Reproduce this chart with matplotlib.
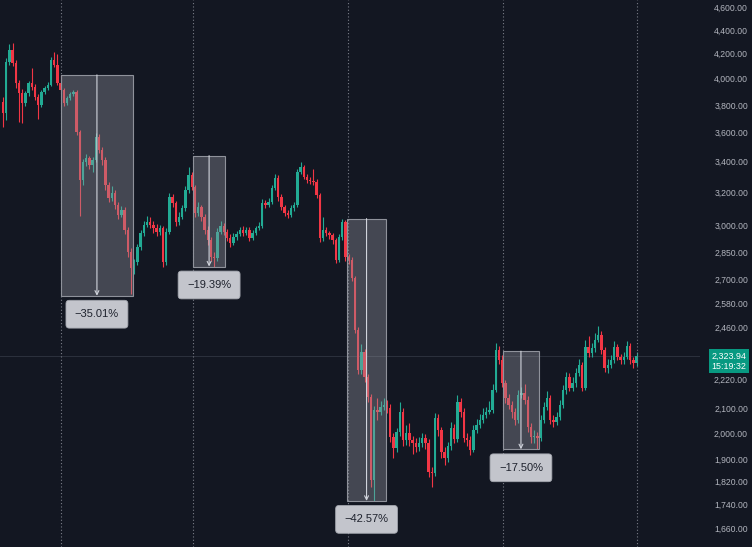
import numpy as np
import matplotlib
matplotlib.use("Agg")
import matplotlib.pyplot as plt
import matplotlib.transforms as mtransforms
from matplotlib.patches import Rectangle
from matplotlib.ticker import NullLocator

# --- data ---
first_open = 3822
closes = [
    3741, 4133, 4231, 4125, 3967, 3890, 3815, 3890, 3967, 3936,
    3860, 3800, 3898, 3928, 3952, 4149, 4109, 3967, 3913, 3815,
    3852, 3882, 3898, 3604, 3281, 3399, 3425, 3379, 3412, 3569,
    3479, 3412, 3249, 3167, 3198, 3124, 3064, 3094, 2975, 2850,
    2763, 2795, 2878, 2958, 3004, 3022, 3004, 2987, 2964, 2987,
    2795, 2964, 3174, 3137, 3022, 3052, 3106, 3217, 3313, 3236,
    3076, 3112, 3052, 2975, 2918, 2822, 2817, 2964, 2998, 2964,
    2929, 2901, 2935, 2952, 2975, 2958, 2975, 2929, 2958, 2987,
    2998, 3137, 3124, 3143, 3230, 3294, 3174, 3112, 3076, 3064,
    3106, 3124, 3333, 3366, 3300, 3281, 3275, 3268, 3186, 2929,
    2975, 2958, 2947, 2918, 2806, 2935, 3022, 2822, 2806, 2709,
    2447, 2263, 2344, 2232, 2147, 1825, 2093, 2085, 2105, 2114,
    2101, 1986, 1943, 2005, 2085, 1974, 2001, 1974, 1962, 1947,
    1962, 1982, 1962, 1854, 1850, 2060, 2013, 1928, 1905, 1950,
    2020, 1975, 2126, 2085, 1982, 1974, 1935, 2013, 2032, 2052,
    2072, 2085, 2093, 2176, 2353, 2308, 2206, 2142, 2114, 2085,
    2052, 2155, 2163, 2134, 2025, 1986, 1990, 1982, 2052, 2105,
    2142, 2052, 2044, 2064, 2114, 2176, 2232, 2185, 2206, 2250,
    2285, 2185, 2367, 2340, 2362, 2400, 2424, 2353, 2272, 2285,
    2308, 2367, 2322, 2308, 2322, 2372, 2308, 2295, 2323.94,
]
highs = [
    3860, 4165, 4280, 4290, 4150, 3990, 3920, 3905, 3985, 4085,
    3960, 3880, 3915, 3945, 3975, 4170, 4215, 4200, 4030, 3930,
    3870, 3895, 3915, 3910, 3620, 3420, 3450, 3440, 3430, 3600,
    3590, 3500, 3430, 3270, 3240, 3215, 3140, 3120, 3110, 2990,
    2870, 2810, 2895, 2975, 3030, 3060, 3050, 3030, 3010, 3005,
    3000, 2985, 3200, 3190, 3150, 3080, 3125, 3240, 3366, 3330,
    3250, 3140, 3125, 3070, 3000, 2935, 2850, 2985, 3030, 3015,
    2980, 2950, 2955, 2970, 2995, 3000, 2990, 2990, 2975, 3000,
    3020, 3160, 3155, 3165, 3250, 3320, 3310, 3190, 3125, 3095,
    3125, 3145, 3350, 3400, 3380, 3320, 3300, 3350, 3285, 3200,
    3050, 2990, 2970, 2960, 2930, 2950, 3042, 3035, 2840, 2820,
    2720, 2460, 2380, 2355, 2245, 2160, 2110, 2140, 2130, 2140,
    2135, 2115, 2000, 2020, 2125, 2100, 2030, 2040, 1990, 1980,
    1985, 2000, 1995, 1975, 1870, 2080, 2075, 2025, 1945, 1965,
    2045, 2035, 2155, 2140, 2100, 2000, 1990, 2030, 2055, 2075,
    2100, 2105, 2130, 2200, 2385, 2370, 2330, 2220, 2160, 2130,
    2100, 2175, 2190, 2200, 2150, 2040, 2010, 2005, 2070, 2125,
    2170, 2155, 2070, 2085, 2135, 2195, 2255, 2250, 2230, 2270,
    2310, 2300, 2400, 2420, 2385, 2430, 2465, 2440, 2365, 2310,
    2330, 2395, 2380, 2335, 2345, 2395, 2385, 2320, 2345,
]
lows = [
    3640, 3690, 4110, 4100, 3930, 3675, 3670, 3790, 3870, 3915,
    3840, 3700, 3785, 3880, 3910, 3940, 4090, 3950, 3895, 3795,
    3800, 3840, 3870, 3580, 3060, 3250, 3370, 3350, 3330, 3400,
    3460, 3380, 3220, 3140, 3150, 3100, 3040, 3050, 2950, 2820,
    2625, 2730, 2780, 2860, 2940, 2990, 2985, 2960, 2940, 2945,
    2770, 2780, 2950, 3110, 3000, 3005, 3040, 3090, 3200, 3215,
    3050, 3060, 3030, 2950, 2890, 2800, 2768, 2800, 2950, 2945,
    2910, 2880, 2890, 2920, 2940, 2940, 2945, 2910, 2915, 2945,
    2975, 2985, 3105, 3110, 3130, 3215, 3150, 3095, 3055, 3045,
    3050, 3090, 3110, 3320, 3285, 3260, 3255, 3250, 3165, 2905,
    2910, 2940, 2925, 2895, 2790, 2795, 2920, 2800, 2785, 2690,
    2430, 2245, 2245, 2210, 2125, 1800, 1751, 2050, 2070, 2090,
    2080, 1965, 1905, 1925, 1990, 1950, 1955, 1950, 1920, 1925,
    1930, 1945, 1940, 1835, 1800, 1840, 1990, 1905, 1880, 1890,
    1935, 1960, 1965, 2065, 1965, 1950, 1915, 1925, 2000, 2020,
    2040, 2060, 2075, 2080, 2165, 2290, 2190, 2120, 2095, 2060,
    2030, 2040, 2140, 2115, 2005, 1960, 1960, 1937, 1970, 2040,
    2090, 2035, 2025, 2030, 2050, 2100, 2160, 2170, 2170, 2190,
    2235, 2170, 2175, 2320, 2320, 2345, 2390, 2335, 2255, 2250,
    2270, 2295, 2305, 2290, 2290, 2310, 2290, 2270, 2280,
]

price_ticks = [4600, 4400, 4200, 4000, 3800, 3600, 3400, 3200, 3000, 2850,
               2700, 2580, 2460, 2220, 2100, 2000, 1900, 1820, 1740, 1660]

# measured drops: candle index range, top / bottom price, label
box_start = [18.1, 59.4, 107.5, 156.2]
box_end = [40.6, 69.4, 119.7, 167.5]
box_top = [4030, 3441, 3042, 2347]
box_bottom = [2616, 2770, 1751, 1937]
box_label = ["\u221235.01%", "\u221219.39%", "\u221242.57%", "\u221217.50%"]

marker_lines = [18, 59.4, 107.9, 156.2, 198]
last_time = "15:19:32"

# --- style ---
BG = "#131722"
UP = "#22ab94"
DOWN = "#f23645"

opens = [first_open] + closes[:-1]
idx = np.arange(len(closes))
o = np.array(opens, dtype=float)
c = np.array(closes, dtype=float)
h = np.array(highs, dtype=float)
l = np.array(lows, dtype=float)
up = c >= o
colors = np.where(up, UP, DOWN)

fig = plt.figure(figsize=(7.52, 5.47), dpi=100)
fig.patch.set_facecolor(BG)
ax = fig.add_axes([0, 0, 700 / 752, 1])
ax.set_facecolor(BG)

ax.set_yscale("log")
ax.set_ylim(1600, 4666)
ax.set_xlim(-0.94, 217.8)

# last price line
ax.axhline(closes[-1], color="#2c313d", lw=0.7, zorder=1)

# candles
ax.vlines(idx, l, h, colors=colors, lw=0.8, zorder=2)
body_low = np.minimum(o, c)
body_h = np.maximum(np.abs(c - o), body_low * 0.002)
ax.bar(idx, body_h, bottom=body_low, width=0.78, color=colors, linewidth=0, zorder=3)

# dotted vertical markers
for xm in marker_lines:
    ax.axvline(xm, color="#7a7d88", lw=0.8, ls=(0, (1, 2)), zorder=4)

# measurement boxes
for x0, x1, top, bot, lab in zip(box_start, box_end, box_top, box_bottom, box_label):
    ax.add_patch(Rectangle((x0, bot), x1 - x0, top - bot, facecolor="#9598a1",
                           alpha=0.38, edgecolor="none", zorder=5))
    ax.add_patch(Rectangle((x0, bot), x1 - x0, top - bot, facecolor="none",
                           edgecolor="#8f929b", lw=0.8, zorder=5))
    cx = (x0 + x1) / 2
    ax.annotate("", xy=(cx, bot), xytext=(cx, top),
                arrowprops=dict(arrowstyle="->", color="#d1d4dc", lw=0.8,
                                shrinkA=0, shrinkB=0, mutation_scale=7),
                zorder=6)
    ax.annotate(lab, xy=(cx, bot), xytext=(0, -13.3), textcoords="offset points",
                ha="center", va="center", fontsize=8, family="Liberation Sans",
                color="#1e222d", zorder=7,
                bbox=dict(boxstyle="round,pad=0.8,rounding_size=0.3",
                          facecolor="#c3c5cc", edgecolor="#a3a6ae", lw=0.6))

# price scale
ax.yaxis.tick_right()
ax.set_yticks(price_ticks, [f"{t:,.2f}" for t in price_ticks])
ax.yaxis.set_minor_locator(NullLocator())
ax.tick_params(axis="y", length=0, pad=34.6, labelsize=6.2, labelcolor="#b2b5be")
for lbl in ax.get_yticklabels():
    lbl.set_horizontalalignment("right")
    lbl.set_family("Liberation Sans")
ax.set_xticks([])
for s in ax.spines.values():
    s.set_visible(False)

# last price tag
blend = mtransforms.blended_transform_factory(fig.transFigure, ax.transData)
ax.annotate(f"{closes[-1]:,.2f}\n{last_time}", xy=(729 / 752, closes[-1]),
            xycoords=blend, xytext=(0, -3.6), textcoords="offset points",
            ha="center", va="center", fontsize=6.4, family="Liberation Sans",
            color="white", linespacing=1.15, annotation_clip=False,
            bbox=dict(boxstyle="square,pad=0.3", facecolor="#089981", edgecolor="none"))

fig.savefig("out.png", dpi=100, facecolor=BG)
